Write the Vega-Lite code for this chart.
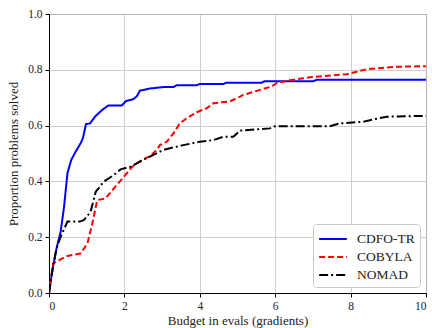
{
  "$schema": "https://vega.github.io/schema/vega-lite/v6.json",
  "width": 377,
  "height": 279,
  "autosize": "none",
  "padding": {"left": 49, "top": 14, "right": 6, "bottom": 35},
  "background": "white",
  "config": {
    "font": "Liberation Serif",
    "view": {"stroke": "black", "strokeWidth": 1},
    "axis": {
      "labelFont": "Liberation Serif",
      "titleFont": "Liberation Serif",
      "labelFontSize": 11.5,
      "titleFontSize": 13,
      "titleFontWeight": "normal",
      "labelColor": "#222",
      "titleColor": "#222",
      "domainColor": "black",
      "domainWidth": 1,
      "tickColor": "black",
      "tickSize": 4,
      "gridColor": "#c8c8c8",
      "gridWidth": 0.9,
      "gridOpacity": 1
    },
    "legend": {
      "labelFont": "Liberation Serif",
      "labelFontSize": 13.5,
      "labelColor": "#222"
    }
  },
  "data": {
    "values": [
      {"x": 0, "y": 0, "solver": "CDFO-TR"},
      {"x": 0.09, "y": 0.082, "solver": "CDFO-TR"},
      {"x": 0.2, "y": 0.16, "solver": "CDFO-TR"},
      {"x": 0.31, "y": 0.22, "solver": "CDFO-TR"},
      {"x": 0.4, "y": 0.31, "solver": "CDFO-TR"},
      {"x": 0.49, "y": 0.43, "solver": "CDFO-TR"},
      {"x": 0.59, "y": 0.477, "solver": "CDFO-TR"},
      {"x": 0.7, "y": 0.505, "solver": "CDFO-TR"},
      {"x": 0.84, "y": 0.537, "solver": "CDFO-TR"},
      {"x": 0.9, "y": 0.555, "solver": "CDFO-TR"},
      {"x": 0.98, "y": 0.605, "solver": "CDFO-TR"},
      {"x": 1.09, "y": 0.608, "solver": "CDFO-TR"},
      {"x": 1.22, "y": 0.632, "solver": "CDFO-TR"},
      {"x": 1.4, "y": 0.655, "solver": "CDFO-TR"},
      {"x": 1.57, "y": 0.672, "solver": "CDFO-TR"},
      {"x": 1.93, "y": 0.672, "solver": "CDFO-TR"},
      {"x": 2.04, "y": 0.688, "solver": "CDFO-TR"},
      {"x": 2.24, "y": 0.695, "solver": "CDFO-TR"},
      {"x": 2.33, "y": 0.705, "solver": "CDFO-TR"},
      {"x": 2.41, "y": 0.725, "solver": "CDFO-TR"},
      {"x": 2.68, "y": 0.733, "solver": "CDFO-TR"},
      {"x": 3.03, "y": 0.738, "solver": "CDFO-TR"},
      {"x": 3.3, "y": 0.738, "solver": "CDFO-TR"},
      {"x": 3.39, "y": 0.745, "solver": "CDFO-TR"},
      {"x": 3.92, "y": 0.745, "solver": "CDFO-TR"},
      {"x": 4.0, "y": 0.749, "solver": "CDFO-TR"},
      {"x": 4.62, "y": 0.749, "solver": "CDFO-TR"},
      {"x": 4.71, "y": 0.754, "solver": "CDFO-TR"},
      {"x": 5.64, "y": 0.754, "solver": "CDFO-TR"},
      {"x": 5.72, "y": 0.759, "solver": "CDFO-TR"},
      {"x": 7.0, "y": 0.759, "solver": "CDFO-TR"},
      {"x": 7.1, "y": 0.764, "solver": "CDFO-TR"},
      {"x": 10, "y": 0.764, "solver": "CDFO-TR"},

      {"x": 0, "y": 0, "solver": "COBYLA"},
      {"x": 0.11, "y": 0.106, "solver": "COBYLA"},
      {"x": 0.27, "y": 0.118, "solver": "COBYLA"},
      {"x": 0.49, "y": 0.133, "solver": "COBYLA"},
      {"x": 0.84, "y": 0.142, "solver": "COBYLA"},
      {"x": 1.02, "y": 0.178, "solver": "COBYLA"},
      {"x": 1.15, "y": 0.25, "solver": "COBYLA"},
      {"x": 1.28, "y": 0.333, "solver": "COBYLA"},
      {"x": 1.5, "y": 0.339, "solver": "COBYLA"},
      {"x": 1.72, "y": 0.375, "solver": "COBYLA"},
      {"x": 1.99, "y": 0.417, "solver": "COBYLA"},
      {"x": 2.21, "y": 0.453, "solver": "COBYLA"},
      {"x": 2.46, "y": 0.477, "solver": "COBYLA"},
      {"x": 2.68, "y": 0.49, "solver": "COBYLA"},
      {"x": 2.86, "y": 0.513, "solver": "COBYLA"},
      {"x": 2.94, "y": 0.53, "solver": "COBYLA"},
      {"x": 3.12, "y": 0.542, "solver": "COBYLA"},
      {"x": 3.3, "y": 0.572, "solver": "COBYLA"},
      {"x": 3.47, "y": 0.608, "solver": "COBYLA"},
      {"x": 3.65, "y": 0.626, "solver": "COBYLA"},
      {"x": 3.92, "y": 0.648, "solver": "COBYLA"},
      {"x": 4.18, "y": 0.662, "solver": "COBYLA"},
      {"x": 4.36, "y": 0.68, "solver": "COBYLA"},
      {"x": 4.8, "y": 0.687, "solver": "COBYLA"},
      {"x": 5.07, "y": 0.704, "solver": "COBYLA"},
      {"x": 5.15, "y": 0.71, "solver": "COBYLA"},
      {"x": 5.6, "y": 0.728, "solver": "COBYLA"},
      {"x": 5.9, "y": 0.74, "solver": "COBYLA"},
      {"x": 6.04, "y": 0.752, "solver": "COBYLA"},
      {"x": 6.39, "y": 0.763, "solver": "COBYLA"},
      {"x": 6.92, "y": 0.773, "solver": "COBYLA"},
      {"x": 7.9, "y": 0.784, "solver": "COBYLA"},
      {"x": 8.16, "y": 0.793, "solver": "COBYLA"},
      {"x": 8.43, "y": 0.802, "solver": "COBYLA"},
      {"x": 9.22, "y": 0.811, "solver": "COBYLA"},
      {"x": 10, "y": 0.813, "solver": "COBYLA"},

      {"x": 0, "y": 0, "solver": "NOMAD"},
      {"x": 0.1, "y": 0.09, "solver": "NOMAD"},
      {"x": 0.2, "y": 0.16, "solver": "NOMAD"},
      {"x": 0.31, "y": 0.202, "solver": "NOMAD"},
      {"x": 0.49, "y": 0.256, "solver": "NOMAD"},
      {"x": 0.82, "y": 0.256, "solver": "NOMAD"},
      {"x": 0.93, "y": 0.262, "solver": "NOMAD"},
      {"x": 1.1, "y": 0.29, "solver": "NOMAD"},
      {"x": 1.24, "y": 0.363, "solver": "NOMAD"},
      {"x": 1.46, "y": 0.4, "solver": "NOMAD"},
      {"x": 1.72, "y": 0.423, "solver": "NOMAD"},
      {"x": 1.9, "y": 0.443, "solver": "NOMAD"},
      {"x": 2.17, "y": 0.453, "solver": "NOMAD"},
      {"x": 2.5, "y": 0.477, "solver": "NOMAD"},
      {"x": 2.77, "y": 0.495, "solver": "NOMAD"},
      {"x": 3.03, "y": 0.513, "solver": "NOMAD"},
      {"x": 3.56, "y": 0.53, "solver": "NOMAD"},
      {"x": 4.0, "y": 0.542, "solver": "NOMAD"},
      {"x": 4.36, "y": 0.548, "solver": "NOMAD"},
      {"x": 4.62, "y": 0.56, "solver": "NOMAD"},
      {"x": 4.89, "y": 0.56, "solver": "NOMAD"},
      {"x": 5.07, "y": 0.582, "solver": "NOMAD"},
      {"x": 5.86, "y": 0.59, "solver": "NOMAD"},
      {"x": 6.0, "y": 0.598, "solver": "NOMAD"},
      {"x": 7.45, "y": 0.598, "solver": "NOMAD"},
      {"x": 7.72, "y": 0.608, "solver": "NOMAD"},
      {"x": 8.34, "y": 0.614, "solver": "NOMAD"},
      {"x": 8.6, "y": 0.622, "solver": "NOMAD"},
      {"x": 8.96, "y": 0.632, "solver": "NOMAD"},
      {"x": 10, "y": 0.635, "solver": "NOMAD"}
    ]
  },
  "mark": {"type": "line", "strokeWidth": 2, "clip": true},
  "encoding": {
    "x": {
      "field": "x",
      "type": "quantitative",
      "scale": {"domain": [0, 10], "nice": false, "zero": false},
      "axis": {"title": "Budget in evals (gradients)", "values": [0, 2, 4, 6, 8, 10], "format": "d", "titlePadding": 3, "labelPadding": 3}
    },
    "y": {
      "field": "y",
      "type": "quantitative",
      "scale": {"domain": [0, 1], "nice": false},
      "axis": {"title": "Proportion problems solved", "values": [0, 0.2, 0.4, 0.6, 0.8, 1.0], "format": ".1f", "titlePadding": 7, "labelPadding": 3}
    },
    "color": {
      "field": "solver",
      "type": "nominal",
      "sort": ["CDFO-TR", "COBYLA", "NOMAD"],
      "scale": {"domain": ["CDFO-TR", "COBYLA", "NOMAD"], "range": ["#0000ff", "#ff0000", "#000000"]},
      "legend": {
        "title": null,
        "orient": "bottom-right",
        "offset": 6,
        "fillColor": "white",
        "strokeColor": "#cccccc",
        "cornerRadius": 3,
        "padding": 5,
        "symbolType": "M-1.6,0H1.6",
        "symbolSize": 300,
        "symbolStrokeWidth": 2,
        "symbolOffset": 5,
        "rowPadding": 1,
        "labelOffset": 14
      }
    },
    "strokeDash": {
      "field": "solver",
      "type": "nominal",
      "sort": ["CDFO-TR", "COBYLA", "NOMAD"],
      "scale": {"domain": ["CDFO-TR", "COBYLA", "NOMAD"], "range": [[1, 0], [6, 3], [9, 3, 2, 3]]}
    }
  }
}
